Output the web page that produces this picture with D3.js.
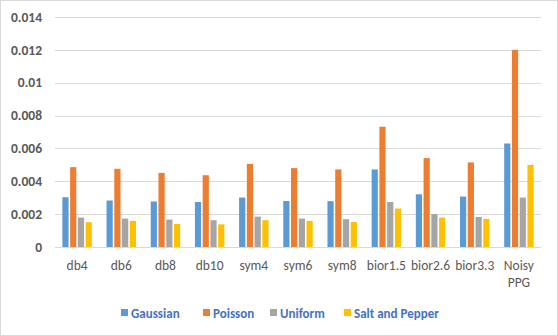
<!DOCTYPE html>
<html>
<head>
<meta charset="utf-8">
<script src="https://cdn.jsdelivr.net/npm/d3@7"></script>
<style>
  body { margin: 0; background: #fff; }
  svg { font-family: Carlito, Lato, "Open Sans", sans-serif; }
</style>
</head>
<body>
<svg id="chart"></svg>
<script>
// Data
const categories = ["db4", "db6", "db8", "db10", "sym4", "sym6", "sym8", "bior1.5", "bior2.6", "bior3.3", "Noisy PPG"];
const seriesNames = ["Gaussian", "Poisson", "Uniform", "Salt and Pepper"];
const gaussian = [0.00303, 0.00283, 0.00277, 0.00274, 0.00301, 0.0028, 0.00279, 0.00472, 0.00321, 0.00307, 0.0063];
const poisson = [0.00486, 0.00476, 0.00451, 0.00437, 0.00506, 0.0048, 0.00472, 0.00732, 0.00541, 0.00515, 0.012];
const uniform = [0.00179, 0.00173, 0.00167, 0.00163, 0.00185, 0.00173, 0.00169, 0.00274, 0.00201, 0.00183, 0.00301];
const saltPepper = [0.00151, 0.00159, 0.0014, 0.00138, 0.00163, 0.00159, 0.00152, 0.00234, 0.00179, 0.00171, 0.005];
const yTicks = [0, 0.002, 0.004, 0.006, 0.008, 0.01, 0.012, 0.014];
const colors = ["#5B9BD5", "#ED7D31", "#A5A5A5", "#FFC000"];

const series = [gaussian, poisson, uniform, saltPepper];

const width = 558, height = 336;
const margin = { top: 17, right: 17, bottom: 89, left: 55 };

const svg = d3.select("#chart")
  .attr("width", width)
  .attr("height", height);

// outer border
svg.append("rect")
  .attr("x", 0.5).attr("y", 0.5)
  .attr("width", width - 1).attr("height", height - 1)
  .attr("fill", "#fff")
  .attr("stroke", "#D9D9D9");

const x = d3.scaleBand()
  .domain(categories)
  .range([margin.left, width - margin.right]);

const xInner = d3.scaleBand()
  .domain(seriesNames)
  .range([0, x.bandwidth()])
  .paddingInner(0.2)
  .paddingOuter(0.95);

const y = d3.scaleLinear()
  .domain([0, 0.014])
  .range([height - margin.bottom, margin.top]);

// gridlines
svg.append("g")
  .selectAll("line")
  .data(yTicks)
  .join("line")
  .attr("x1", margin.left)
  .attr("x2", width - margin.right)
  .attr("y1", d => Math.round(y(d)) + 0.5)
  .attr("y2", d => Math.round(y(d)) + 0.5)
  .attr("stroke", "#D9D9D9")
  .attr("stroke-width", 1);

// y tick labels
svg.append("g")
  .selectAll("text")
  .data(yTicks)
  .join("text")
  .attr("x", margin.left - 13)
  .attr("y", d => y(d))
  .attr("dy", "0.35em")
  .attr("text-anchor", "end")
  .attr("fill", "#595959")
  .attr("font-size", 13.5)
  .attr("font-weight", "bold")
  .text(d => d === 0 ? "0" : d3.format("")(+d.toFixed(3)));

// bars
const groups = svg.append("g")
  .selectAll("g")
  .data(categories)
  .join("g")
  .attr("transform", d => `translate(${x(d)},0)`);

groups.selectAll("rect")
  .data((c, i) => series.map((s, k) => ({ name: seriesNames[k], value: s[i], color: colors[k] })))
  .join("rect")
  .attr("x", d => xInner(d.name))
  .attr("width", xInner.bandwidth())
  .attr("y", d => y(d.value))
  .attr("height", d => y(0) - y(d.value))
  .attr("fill", d => d.color);

// x labels
const xLabels = svg.append("g")
  .selectAll("text")
  .data(categories)
  .join("text")
  .attr("x", d => x(d) + x.bandwidth() / 2)
  .attr("y", y(0) + 23)
  .attr("text-anchor", "middle")
  .attr("fill", "#595959")
  .attr("font-size", 13.5);

xLabels.each(function(d) {
  const t = d3.select(this);
  const parts = d === "Noisy PPG" ? ["Noisy", "PPG"] : [d];
  parts.forEach((p, i) => {
    t.append("tspan")
      .attr("x", x(d) + x.bandwidth() / 2)
      .attr("dy", i === 0 ? 0 : 17)
      .text(p);
  });
});

// legend
const legendX = [121, 203, 270, 344];
const legend = svg.append("g")
  .selectAll("g")
  .data(seriesNames)
  .join("g")
  .attr("transform", (d, i) => `translate(${legendX[i]},313)`);

legend.append("rect")
  .attr("x", 0).attr("y", -4)
  .attr("width", 7).attr("height", 7)
  .attr("fill", (d, i) => colors[i]);

legend.append("text")
  .attr("x", 10)
  .attr("y", 0)
  .attr("dy", "0.35em")
  .attr("fill", "#4472C4")
  .attr("font-size", 13)
  .attr("font-weight", "bold")
  .text(d => d);
</script>
</body>
</html>
